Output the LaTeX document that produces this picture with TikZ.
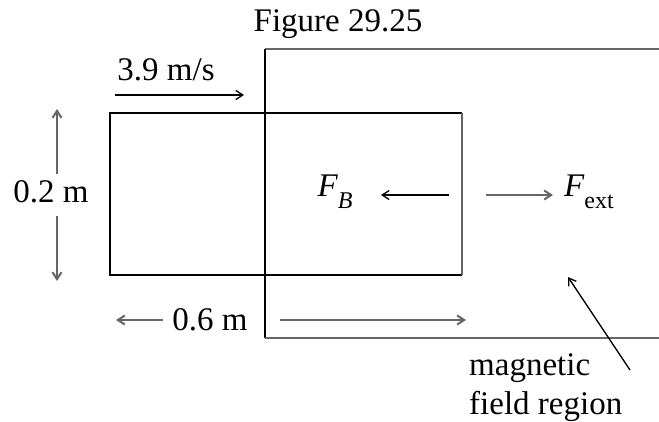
\documentclass[tikz,border=0pt]{standalone}
\usepackage{fontspec}
\setmainfont{Liberation Serif}
\usetikzlibrary{arrows.meta}
\newcommand{\mysub}[1]{\raisebox{-0.35em}{\fontsize{24}{26}\selectfont #1}}
\begin{document}
\begin{tikzpicture}[x=1pt,y=-1pt,
  loop/.style={draw=black,line width=1.3pt},
  field/.style={draw=black!60,line width=2.2pt},
  arr/.style={-{Straight Barb[length=7pt,width=9pt]},line width=1.3pt},
  grayarr/.style={-{Straight Barb[length=7pt,width=9pt]},line width=2pt,draw=black!60},
  lbl/.style={font=\fontsize{33}{38}\selectfont,inner sep=0pt}]
\useasboundingbox (0,0) rectangle (659,421);
\node[font=\fontsize{33}{36}\selectfont,inner sep=0pt] (title) at (338,24) {Figure 29.25};
% field region
\coordinate (ftr) at (661,49);
\coordinate (ftl) at (265,49);
\coordinate (fbl) at (265,338);
\coordinate (fbr) at (661,338);
\draw[field] (ftr) -- (ftl);
\draw[loop] (ftl) -- (fbl);
\draw[field] (fbl) -- (fbr);
% loop
\node[minimum width=352pt,minimum height=162pt,inner sep=0pt,outer sep=0pt] (rect) at (286,194) {};
\draw[loop] (rect.north east) -- (rect.north west) -- (rect.south west) -- (rect.south east);
\draw[field,line width=1.8pt] (rect.north east) -- (rect.south east);
% velocity
\node[lbl] (v) at (166,70) {3.9 m/s};
\coordinate (v1) at (115,95);
\coordinate (v2) at (244,95);
\draw[arr] (v1) -- (v2);
% height
\node[lbl] (h) at (51,192) {0.2 m};
\coordinate (ht) at (57,109);
\coordinate (hb) at (57,281);
\coordinate (hm1) at (57,174);
\coordinate (hm2) at (57,216);
\draw[grayarr] (hm1) -- (ht);
\draw[grayarr] (hm2) -- (hb);
% forces
\node[lbl] (fb) at (335,192) {\itshape F\mysub{B}};
\coordinate (fb1) at (449,195);
\coordinate (fb2) at (381,195);
\draw[arr] (fb1) -- (fb2);
\node[lbl,anchor=west] (fe) at (564,192) {\itshape F\mysub{\upshape ext}};
\coordinate (fe1) at (486,195);
\coordinate (fe2) at (553,195);
\draw[grayarr] (fe1) -- (fe2);
% width
\node[lbl] (w) at (210,320) {0.6 m};
\coordinate (wl) at (116,320);
\coordinate (wl0) at (163,320);
\coordinate (wr) at (466,320);
\draw[grayarr] (wl0) -- (wl);
\coordinate (wr0) at (280,320);
\draw[grayarr] (wr0) -- (wr);
% magnetic field region
\node[lbl,anchor=base west] (mf1) at (469,375) {magnetic};
\node[lbl,anchor=base west] (mf2) at (469,414) {field region};
\coordinate (ma) at (630,370);
\coordinate (mb) at (568,277);
\draw[arr] (ma) -- (mb);
\end{tikzpicture}
\end{document}
